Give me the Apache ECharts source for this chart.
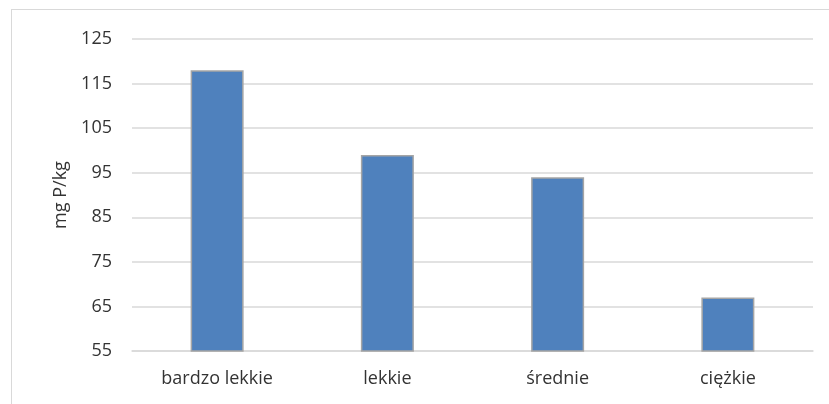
<!DOCTYPE html>
<html><head><meta charset="utf-8">
<script src="https://cdn.jsdelivr.net/npm/echarts@6/dist/echarts.min.js"></script>
<style>html,body{margin:0;padding:0;background:#fff}#c{width:829px;height:404px;position:relative}
#frame{position:absolute;left:11px;top:9px;width:830px;height:400px;border:1px solid #d9d9d9;box-sizing:border-box;pointer-events:none}</style>
</head><body><div id="c"></div><div id="frame"></div>
<script>
const categories = ['bardzo lekkie', 'lekkie', 'średnie', 'ciężkie'];
const values = [118, 99, 94, 67];
const yMin = 55, yMax = 125, yStep = 10;
const yName = 'mg P/kg';

const chart = echarts.init(document.getElementById('c'), null, {renderer: 'canvas'});
chart.setOption({
  animation: false,
  grid: {left: 132, right: 16, top: 39, bottom: 53},
  xAxis: {
    type: 'category', data: categories,
    axisLine: {show: true, lineStyle: {color: '#d9d9d9', width: 1.5}},
    axisTick: {show: false},
    axisLabel: {color: '#333333', fontFamily: 'Open Sans', fontSize: 18, margin: 19}
  },
  yAxis: {
    type: 'value', min: yMin, max: yMax, interval: yStep,
    name: yName, nameLocation: 'middle', nameGap: 62, nameRotate: 90,
    nameTextStyle: {color: '#333333', fontFamily: 'Open Sans', fontSize: 18},
    axisLine: {show: false}, axisTick: {show: false},
    axisLabel: {color: '#333333', fontFamily: 'Open Sans', fontSize: 18, margin: 20},
    splitLine: {lineStyle: {color: '#d9d9d9', width: 1.5}}
  },
  series: [{
    type: 'bar', data: values, barWidth: 53,
    itemStyle: {color: '#4F81BD', borderColor: '#A5A5A5', borderWidth: 1.5}
  }]
});
</script></body></html>
